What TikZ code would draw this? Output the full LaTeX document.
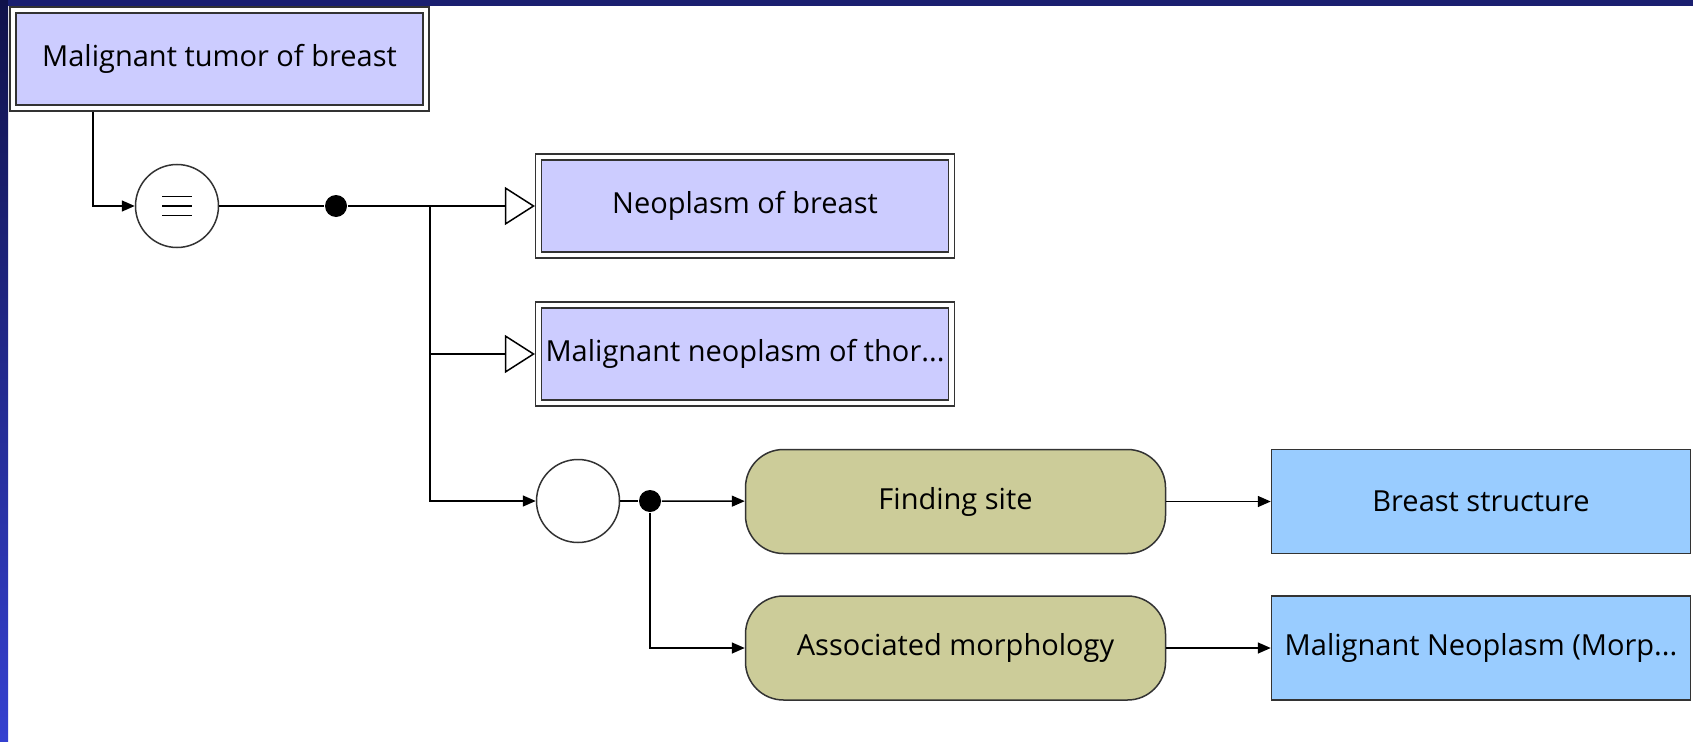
\documentclass[tikz,border=0pt]{standalone}
\usepackage{fontspec}
\setmainfont{Open Sans}
\usepackage{xcolor}
\usepackage{tikz}
\usetikzlibrary{arrows.meta,shapes,shapes.geometric}
\usetikzlibrary{positioning}
\definecolor{conceptblue}{HTML}{CCCCFF}
\definecolor{attrolive}{HTML}{CCCC99}
\definecolor{valueblue}{HTML}{99CCFF}
\definecolor{slidenavy}{HTML}{1A1F70}
\definecolor{slidedark}{HTML}{10124A}
\definecolor{slideblue}{HTML}{3440D0}
\definecolor{edgegray}{HTML}{333333}

\begin{document}
\begin{tikzpicture}[x=1pt, y=-1pt, line width=1.5pt,
concept/.style={rectangle, draw=edgegray, fill=conceptblue, double=white, double distance=4.2pt, minimum width=413pt, minimum height=98pt, inner sep=0pt, outer sep=3.6pt, font=\fontsize{29}{34}\selectfont},
attr/.style={rectangle, rounded corners=38pt, draw=edgegray, fill=attrolive, minimum width=420pt, minimum height=104pt, inner sep=0pt, font=\fontsize{29}{34}\selectfont},
value/.style={rectangle, draw=edgegray, fill=valueblue, minimum width=419pt, minimum height=104pt, inner sep=0pt, font=\fontsize{29}{34}\selectfont},
op/.style={circle, draw=edgegray, fill=white, minimum size=83pt, inner sep=0pt},
dot/.style={circle, fill=black, minimum size=22pt, inner sep=0pt},
arr/.style={-{Triangle[length=13pt, width=11pt]}},
isa/.style={-{Triangle[length=30pt, width=38pt, fill=white]}}]

\useasboundingbox (0,0) rectangle (1693,741);
\fill[white] (0,0) rectangle (1693,741);
\shade[top color=slidedark, bottom color=slideblue] (0,0) rectangle (8,741);
\fill[slidenavy] (8,0) rectangle (1693,6);

\node[concept] (mtb) at (219.5,59) {Malignant tumor of breast};
\coordinate (m0) at (93,206);
\node[op] (eq) at (177,206) {};
\foreach \dy in {-9.5,0,9.5}
  \path[draw] ([xshift=-15pt,yshift=\dy pt]eq.center) -- ++(30,0);
\node[dot] (d1) at (336,206) {};
\coordinate (j1) at (430,206);

\node[concept] (nob) at (745,206) {Neoplasm of breast};
\node[concept] (mnt) at (745,354) {Malignant neoplasm of thor...};

\node[op] (grp) at (578,501) {};
\node[dot] (d2) at (650,501) {};
\node[attr] (fs) at (955.5,501.5) {Finding site};
\node[attr] (am) at (955.5,648) {Associated morphology};
\node[value] (bs) at (1481,501.5) {Breast structure};
\node[value] (mnm) at (1481,648) {Malignant Neoplasm (Morp...};

\path[draw] [arr] (m0 |- mtb.south) -- (m0) -- (eq);
\path[draw] (eq) -- (d1) -- (j1);
\path[draw] [isa] (j1) -- (nob);
\path[draw] [isa] (j1) |- (mnt);
\path[draw] [arr] (j1) |- (grp);
\path[draw] (grp) -- (d2);
\path[draw] [arr] (d2) -- (fs);
\path[draw] [arr] (d2) |- (am);
\path[draw] [arr] (fs) -- (bs);
\path[draw] [arr] (am) -- (mnm);

\end{tikzpicture}
\end{document}
